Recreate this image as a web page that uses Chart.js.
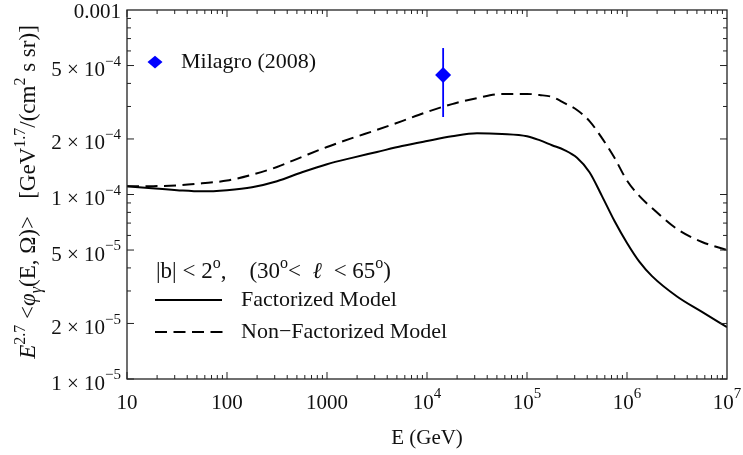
<!DOCTYPE html>
<html><head><meta charset="utf-8">
<script src="https://cdn.jsdelivr.net/npm/chart.js@4"></script>
<style>html,body{margin:0;padding:0;background:#fff}canvas{display:block}</style>
</head><body>
<canvas id="c" width="743" height="455"></canvas>
<script>
// ---- data ----
const energies = [10,17.78,31.62,56.23,100,177.8,316.2,562.3,1000,1778,3162,5623,1e4,1.778e4,3.162e4,5.623e4,1e5,1.334e5,1.778e5,2.371e5,3.162e5,4.217e5,5.623e5,7.499e5,1e6,1.334e6,1.778e6,3.162e6,5.623e6,1e7];
const factorized = [1.11e-4,1.08e-4,1.056e-4,1.04e-4,1.056e-4,1.095e-4,1.18e-4,1.32e-4,1.46e-4,1.58e-4,1.70e-4,1.83e-4,1.95e-4,2.07e-4,2.15e-4,2.13e-4,2.07e-4,1.97e-4,1.85e-4,1.74e-4,1.58e-4,1.32e-4,9.8e-5,7.18e-5,5.46e-5,4.31e-5,3.61e-5,2.8e-5,2.31e-5,1.91e-5];
const nonFactorized = [1.11e-4,1.11e-4,1.12e-4,1.15e-4,1.19e-4,1.28e-4,1.41e-4,1.60e-4,1.81e-4,2.02e-4,2.24e-4,2.50e-4,2.80e-4,3.09e-4,3.33e-4,3.51e-4,3.51e-4,3.46e-4,3.38e-4,3.13e-4,2.87e-4,2.50e-4,2.02e-4,1.58e-4,1.19e-4,9.8e-5,8.45e-5,6.5e-5,5.53e-5,5.0e-5];
const milagroE = [1.45e4];
const milagroFlux = [4.44e-4];
const milagroLow = [2.63e-4];
const milagroHigh = [6.22e-4];
const xTickValues = [10,100,1000,1e4,1e5,1e6,1e7];
const xTickLabels = ['10','100','1000','10^4','10^5','10^6','10^7'];
const yTickValues = [1e-5,2e-5,5e-5,1e-4,2e-4,5e-4,1e-3];
const yTickLabels = ['1 × 10^−5','2 × 10^−5','5 × 10^−5','1 × 10^−4','2 × 10^−4','5 × 10^−4','0.001'];

const SERIF = '"Liberation Serif","Times New Roman",serif';
const TICK = 21;
const TXT = 22;

function segFont(s, size){
  const fs = (s.sup||s.sub)? Math.round(size*0.7) : size;
  return (s.it?'italic ':'') + fs + 'px ' + SERIF;
}
function richWidth(ctx, segs, size){
  let w=0;
  for(const s of segs){ ctx.font = segFont(s,size); w += ctx.measureText(s.t).width; }
  return w;
}
function drawRich(ctx, segs, x, y, size, baseline){
  ctx.textBaseline = baseline || 'alphabetic';
  ctx.textAlign='left';
  for(const s of segs){
    ctx.font = segFont(s,size);
    const dy = s.sup ? -size*0.42 : (s.sub ? size*0.25 : 0);
    ctx.fillText(s.t, x, y+dy);
    x += ctx.measureText(s.t).width;
  }
}
function drawRichRight(ctx, segs, xr, y, size, baseline){
  ctx.textBaseline = baseline || 'alphabetic';
  ctx.textAlign='right';
  let x = xr;
  for(let i=segs.length-1;i>=0;i--){
    const s=segs[i];
    ctx.font = segFont(s,size);
    const dy = s.sup ? -size*0.42 : (s.sub ? size*0.25 : 0);
    ctx.fillText(s.t, x, y+dy);
    x -= ctx.measureText(s.t).width;
  }
  ctx.textAlign='left';
}
function parseLabel(lbl){
  const p = lbl.split('^');
  const segs=[{t:p[0]}];
  if(p.length>1) segs.push({t:p[1], sup:1});
  return segs;
}

const decor = {
  id:'decor',
  afterDraw(chart){
    const ctx = chart.ctx, a = chart.chartArea;
    const xs = chart.scales.x, ys = chart.scales.y;
    ctx.save();
    ctx.strokeStyle='#222'; ctx.lineWidth=1.3;
    ctx.strokeRect(a.left, a.top, a.right-a.left, a.bottom-a.top);
    ctx.lineWidth=1;
    ctx.beginPath();
    for(let d=10; d<1e7*0.99; d*=10){
      for(let k=1;k<=9;k++){
        const px=xs.getPixelForValue(k*d);
        const L = k===1?7:4;
        ctx.moveTo(px,a.bottom); ctx.lineTo(px,a.bottom-L);
        ctx.moveTo(px,a.top); ctx.lineTo(px,a.top+L);
      }
    }
    for(let d=1e-5; d<1e-3*0.99; d*=10){
      for(let k=1;k<=9;k++){
        const py=ys.getPixelForValue(k*d);
        const L = (k===1||k===2||k===5)?7:4;
        ctx.moveTo(a.left,py); ctx.lineTo(a.left+L,py);
        ctx.moveTo(a.right,py); ctx.lineTo(a.right-L,py);
      }
    }
    ctx.stroke();
    ctx.fillStyle='#111';
    xTickValues.forEach((v,i)=>{
      const segs = parseLabel(xTickLabels[i]);
      const w = richWidth(ctx, segs, TICK);
      drawRich(ctx, segs, xs.getPixelForValue(v)-w/2, 403, TICK, 'middle');
    });
    yTickValues.forEach((v,i)=>{
      const segs = parseLabel(yTickLabels[i]);
      const off = segs.length>1 ? 5 : 2;
      drawRichRight(ctx, segs, 121, ys.getPixelForValue(v)+off, TICK, 'middle');
    });
    ctx.font = TICK+'px '+SERIF; ctx.textAlign='center'; ctx.textBaseline='middle';
    ctx.fillText('E (GeV)', (a.left+a.right)/2, 438);
    const ySegs=[{t:'E',it:1},{t:'2.7',sup:1},{t:' <'},{t:'φ',it:1},{t:'γ',sub:1,it:1},{t:'(E, Ω)>   [GeV'},{t:'1.7',sup:1},{t:'/(cm'},{t:'2',sup:1},{t:' s sr)]'}];
    const tw = richWidth(ctx, ySegs, 23);
    ctx.save(); ctx.translate(35, 192); ctx.rotate(-Math.PI/2);
    drawRich(ctx, ySegs, -tw/2, 0, 23);
    ctx.restore();
    ctx.fillStyle='#0000ff';
    ctx.beginPath(); const lx=155, ly=62, r=7.5;
    ctx.moveTo(lx-r,ly); ctx.lineTo(lx,ly-r*0.85); ctx.lineTo(lx+r,ly); ctx.lineTo(lx,ly+r*0.85); ctx.closePath(); ctx.fill();
    ctx.fillStyle='#111';
    ctx.font = TXT+'px '+SERIF; ctx.textAlign='left'; ctx.textBaseline='middle';
    ctx.fillText('Milagro (2008)', 181, 62);
    const rSegs=[{t:'|b| < 2'},{t:'o',sup:1},{t:',    (30'},{t:'o',sup:1},{t:'<  '},{t:'ℓ',it:1},{t:'  < 65'},{t:'o',sup:1},{t:')'}];
    drawRich(ctx, rSegs, 156, 278, 23);
    ctx.strokeStyle='#000'; ctx.lineWidth=2;
    ctx.beginPath(); ctx.moveTo(155,300); ctx.lineTo(222,300); ctx.stroke();
    ctx.setLineDash([12,6.5]);
    ctx.beginPath(); ctx.moveTo(155,332); ctx.lineTo(224,332); ctx.stroke();
    ctx.setLineDash([]);
    ctx.font = TXT+'px '+SERIF; ctx.textBaseline='middle';
    ctx.fillText('Factorized Model', 241, 300);
    ctx.fillText('Non\u2212Factorized Model', 241, 332);
    ctx.restore();
  }
};

const toPts = (xs, ys) => xs.map((x,i)=>({x, y:ys[i]}));

new Chart(document.getElementById('c'), {
  type:'line',
  data:{ datasets:[
    {label:'Factorized Model', data: toPts(energies, factorized), borderColor:'#000', borderWidth:2, pointRadius:0, cubicInterpolationMode:'monotone', fill:false},
    {label:'Non-Factorized Model', data: toPts(energies, nonFactorized), borderColor:'#000', borderWidth:2, borderDash:[12,6.5], pointRadius:0, cubicInterpolationMode:'monotone', fill:false},
    {label:'Milagro error', data:[{x:milagroE[0], y:milagroLow[0]},{x:milagroE[0], y:milagroHigh[0]}], borderColor:'#0000ff', borderWidth:1.8, pointRadius:0, fill:false},
    {label:'Milagro (2008)', data: toPts(milagroE, milagroFlux), showLine:false, pointStyle:'rectRot', pointRadius:8, backgroundColor:'#0000ff', borderColor:'#0000ff', borderWidth:0}
  ]},
  options:{
    responsive:false, animation:false, devicePixelRatio:1,
    layout:{padding:{top:10,right:16,left:0,bottom:0}},
    plugins:{legend:{display:false}, tooltip:{enabled:false}},
    scales:{
      x:{type:'logarithmic', min:10, max:1e7,
        afterBuildTicks:s=>{s.ticks = xTickValues.map(v=>({value:v}));},
        afterFit:s=>{s.height=76;},
        grid:{display:false, drawTicks:false}, border:{display:false},
        ticks:{display:false}},
      y:{type:'logarithmic', min:1e-5, max:1e-3,
        afterBuildTicks:s=>{s.ticks = yTickValues.map(v=>({value:v}));},
        afterFit:s=>{s.width=127;},
        grid:{display:false, drawTicks:false}, border:{display:false},
        ticks:{display:false}}
    }
  },
  plugins:[decor]
});
</script>
</body></html>
